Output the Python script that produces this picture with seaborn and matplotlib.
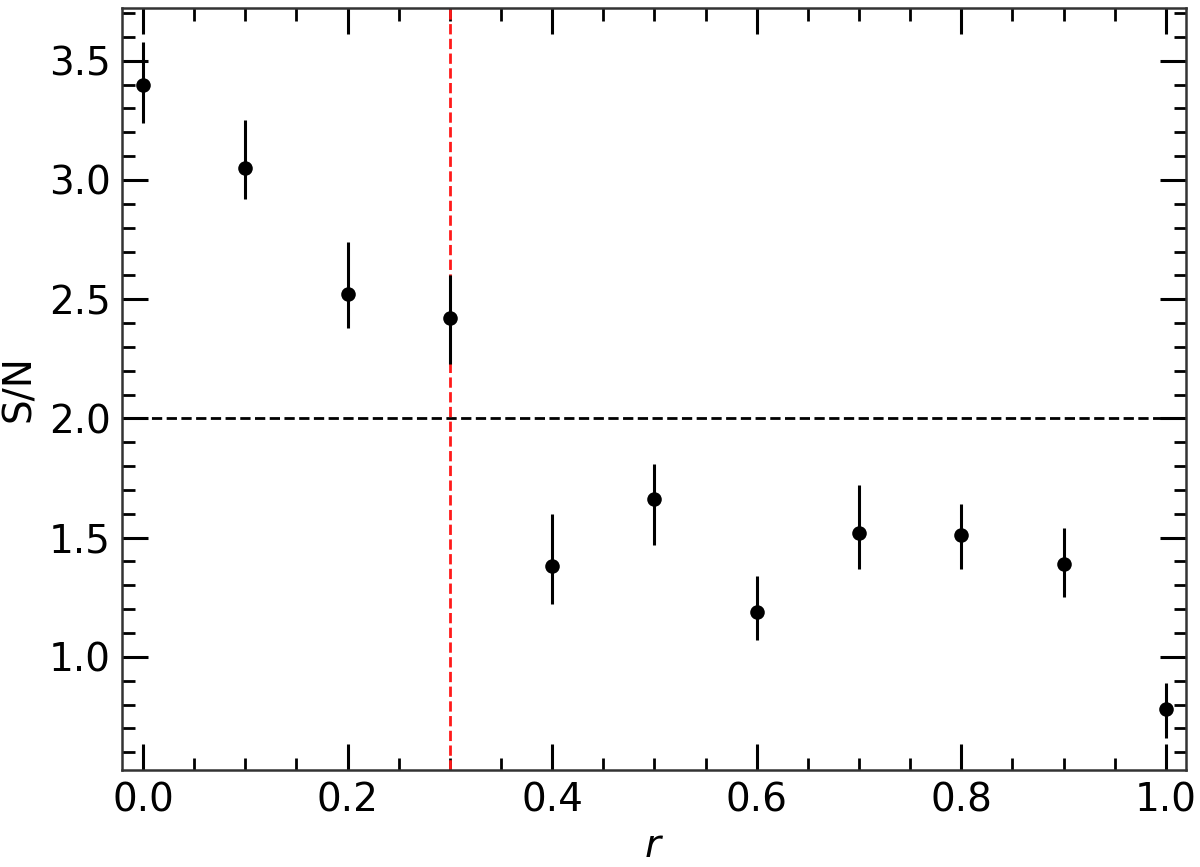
import numpy as np
import pandas as pd
import matplotlib
matplotlib.use("Agg")
import matplotlib.pyplot as plt
import seaborn as sns
from matplotlib.ticker import MultipleLocator

# values
r_vals = [0.0, 0.1, 0.2, 0.3, 0.4, 0.5, 0.6, 0.7, 0.8, 0.9, 1.0]
sn_vals = [3.40, 3.05, 2.52, 2.42, 1.38, 1.66, 1.19, 1.52, 1.51, 1.39, 0.78]
sn_upper = [3.58, 3.25, 2.74, 2.60, 1.60, 1.81, 1.34, 1.72, 1.64, 1.54, 0.89]
sn_lower = [3.24, 2.92, 2.38, 2.23, 1.22, 1.47, 1.07, 1.37, 1.37, 1.25, 0.66]
threshold_sn = 2.0
cut_r = 0.3

df = pd.DataFrame({"r": r_vals, "sn": sn_vals, "hi": sn_upper, "lo": sn_lower})

sns.set_style("ticks")
plt.rcParams['font.family'] = ['DejaVu Sans']
plt.rcParams['text.color'] = 'black'
plt.rcParams['axes.labelcolor'] = 'black'

fig = plt.figure(figsize=(12, 8.67), dpi=100)
ax = fig.add_axes([0.1017, 0.112, 0.8866, 0.879])

yerr = np.array([df["sn"] - df["lo"], df["hi"] - df["sn"]])
ax.errorbar(df["r"], df["sn"], yerr=yerr, fmt="none", ecolor="black", elinewidth=2.2, capsize=0, zorder=2)
sns.scatterplot(data=df, x="r", y="sn", ax=ax, color="black", s=110, edgecolor="black", linewidth=0, zorder=3)

ax.axhline(threshold_sn, color="black", linestyle="--", linewidth=2, zorder=1)
ax.axvline(cut_r, color="#ff1a1a", linestyle="--", linewidth=2, zorder=1)

ax.set_xlim(-0.0205, 1.0196)
ax.set_ylim(0.526, 3.722)
ax.xaxis.set_major_locator(MultipleLocator(0.2))
ax.xaxis.set_minor_locator(MultipleLocator(0.05))
ax.yaxis.set_major_locator(MultipleLocator(0.5))
ax.yaxis.set_minor_locator(MultipleLocator(0.1))
ax.tick_params(which="both", direction="in", top=True, right=True, colors="black", labelsize=28)
ax.tick_params(which="major", length=19, width=2.2, pad=8)
ax.tick_params(which="minor", length=9, width=2)
for sp in ax.spines.values():
    sp.set_linewidth(1.8)
    sp.set_color("#333333")

ax.set_xlabel("$r$", fontsize=28, labelpad=6, color="black")
ax.set_ylabel("S/N", fontsize=28, labelpad=8, color="black")

fig.savefig("out.png", dpi=100)
